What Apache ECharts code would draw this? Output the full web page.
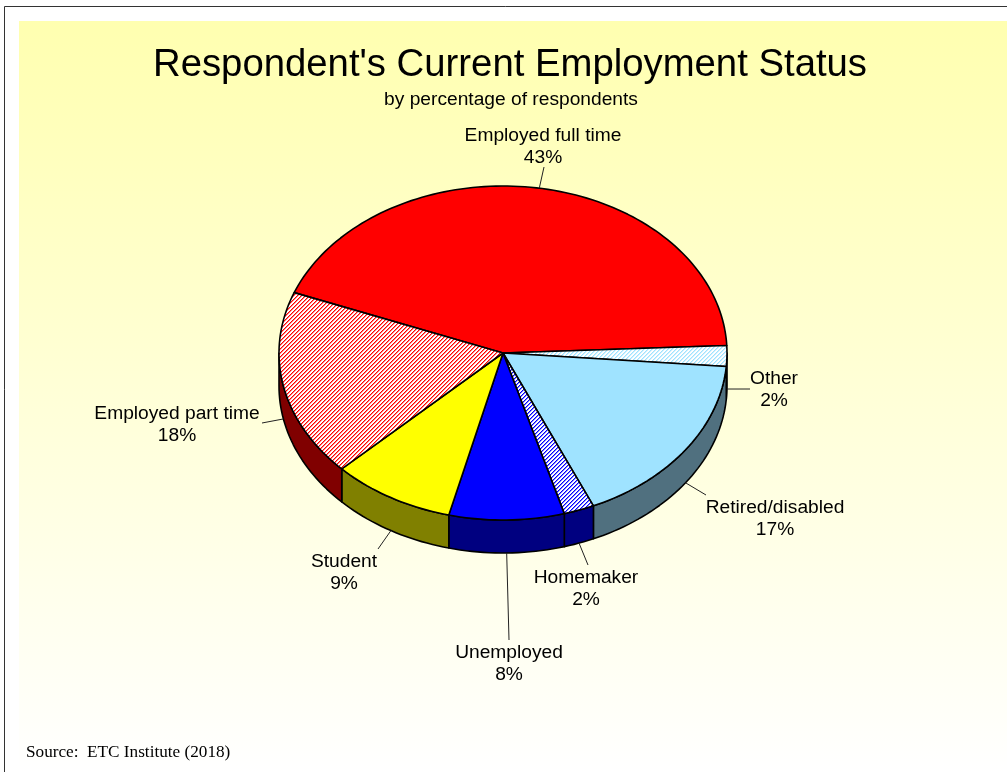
<!DOCTYPE html>
<html>
<head>
<meta charset="utf-8">
<title>Respondent's Current Employment Status</title>
<style>
  html, body { margin: 0; padding: 0; background: #fff; }
  #chart { width: 1007px; height: 772px; }
</style>
<script src="https://cdn.jsdelivr.net/npm/echarts@6/dist/echarts.min.js"></script>
</head>
<body>
<div id="chart"></div>
<script>
// values, clockwise from the full time / part time edge
var categories = ['Employed full time', 'Other', 'Retired/disabled', 'Homemaker', 'Unemployed', 'Student', 'Employed part time'];
var percents = [43.4, 2.0, 17.1, 2.2, 8.3, 8.9, 18.1];

var topColors = ['#ff0000', 'hatch:#9fe3ff', '#9fe3ff', 'hatch:#0000ff', '#0000ff', '#ffff00', 'hatch:#ff0000'];
var wallColors = ['#800000', '#50707f', '#50707f', '#000080', '#000080', '#808000', '#800000'];

// where each leader line ends and where its label is centred
var leaderEnds = [[544, 167], [750, 389], [706, 495], [588, 565], [509, 640], [378, 549], [262, 423]];
var labelCentres = [[543, 147], [774, 390], [775, 519], [586, 589], [509, 664], [344, 573], [177, 425]];

var pie = { cx: 503, cy: 353, rx: 224, ry: 167, depth: 33, start: 158.8 };

// pixel drawn so the stripes stay crisp, second pixel half strength
function hatch(color) {
    var size = 4;
    var c = document.createElement('canvas');
    c.width = size;
    c.height = size;
    var ctx = c.getContext('2d');
    ctx.fillStyle = '#fff';
    ctx.fillRect(0, 0, size, size);
    ctx.fillStyle = color;
    for (var x = 0; x < size; x++) {
        for (var y = 0; y < size; y++) {
            var k = (x + y) % size;
            if (k < 2) {
                ctx.globalAlpha = k === 0 ? 1 : 0.5;
                ctx.fillRect(x, y, 1, 1);
            }
        }
    }
    return { image: c, repeat: 'repeat' };
}

function fillOf(color) {
    return color.indexOf('hatch:') === 0 ? hatch(color.slice(6)) : color;
}

function edgePoint(deg, drop) {
    var t = deg * Math.PI / 180;
    return [pie.cx + pie.rx * Math.cos(t), pie.cy - pie.ry * Math.sin(t) + (drop || 0)];
}

function arc(from, to, drop) {
    var pts = [];
    var n = Math.max(2, Math.ceil(Math.abs(from - to) / 1.5));
    for (var i = 0; i <= n; i++) {
        pts.push(edgePoint(from + (to - from) * i / n, drop));
    }
    return pts;
}

// only the part of the rim facing the viewer shows a wall
function wallRange(from, to) {
    var ranges = [[0, -180], [-360, -540]];
    for (var i = 0; i < ranges.length; i++) {
        var a = Math.min(from, ranges[i][0]);
        var b = Math.max(to, ranges[i][1]);
        if (a > b) return [a, b];
    }
    return null;
}

var seriesData = [];
var angle = pie.start;
var total = percents.reduce(function (a, b) { return a + b; }, 0);
percents.forEach(function (p, i) {
    var sweep = p / total * 360;
    seriesData.push({ name: categories[i], value: [p, angle, angle - sweep] });
    angle -= sweep;
});

function renderSlice(params, api) {
    var i = params.dataIndex;
    var pct = api.value(0);
    var from = api.value(1);
    var to = api.value(2);
    var mid = (from + to) / 2;
    var children = [];

    var wall = wallRange(from, to);
    if (wall) {
        var front = arc(wall[0], wall[1], 0);
        var back = arc(wall[1], wall[0], pie.depth);
        children.push({
            type: 'polygon',
            shape: { points: front.concat(back) },
            style: { fill: wallColors[i], stroke: '#000', lineWidth: 1.6, lineJoin: 'round' }
        });
    }

    children.push({
        type: 'polygon',
        shape: { points: [[pie.cx, pie.cy]].concat(arc(from, to, 0)) },
        style: { fill: fillOf(topColors[i]), stroke: '#000', lineWidth: 1.6, lineJoin: 'round' }
    });

    // leader line starts from the visible rim at the middle of the slice
    var onFront = Math.sin(mid * Math.PI / 180) < 0;
    var start = edgePoint(mid, onFront ? pie.depth : 0);
    children.push({
        type: 'line',
        shape: { x1: start[0], y1: start[1], x2: leaderEnds[i][0], y2: leaderEnds[i][1] },
        style: { stroke: '#222', lineWidth: 1, fill: null }
    });

    children.push({
        type: 'text',
        style: {
            x: labelCentres[i][0],
            y: labelCentres[i][1],
            text: categories[i] + '\n' + Math.round(pct) + '%',
            align: 'center',
            verticalAlign: 'middle',
            fontFamily: '"Liberation Sans", Arial, sans-serif',
            fontSize: 19.2,
            lineHeight: 22,
            fill: '#000'
        }
    });
    return { type: 'group', children: children };
}

var chart = echarts.init(document.getElementById('chart'));
chart.setOption({
    animation: false,
    backgroundColor: '#ffffff',
    title: [
        {
            text: "Respondent's Current Employment Status",
            left: 505, top: 41, textAlign: 'center',
            textStyle: { fontFamily: '"Liberation Sans", Arial, sans-serif', fontSize: 38.3, fontWeight: 'normal', color: '#000' }
        },
        {
            text: 'by percentage of respondents',
            left: 506, top: 85, textAlign: 'center',
            textStyle: { fontFamily: '"Liberation Sans", Arial, sans-serif', fontSize: 19.2, fontWeight: 'normal', color: '#000' }
        },
        {
            text: 'Source:  ETC Institute (2018)',
            left: 21, top: 739,
            textStyle: { fontFamily: '"Liberation Serif", "Times New Roman", serif', fontSize: 17.2, fontWeight: 'normal', color: '#000' }
        }
    ],
    graphic: [
        {
            type: 'rect', z: -10,
            shape: { x: 19, y: 21, width: 988, height: 751 },
            style: {
                fill: {
                    type: 'linear', x: 0, y: 0, x2: 0, y2: 1,
                    colorStops: [{ offset: 0, color: '#ffffb0' }, { offset: 1, color: '#ffffff' }]
                }
            }
        },
        { type: 'line', z: -5, shape: { x1: 4.5, y1: 6.5, x2: 1007, y2: 6.5 }, style: { stroke: '#333', lineWidth: 1 } },
        { type: 'line', z: -5, shape: { x1: 4.5, y1: 6.5, x2: 4.5, y2: 772 }, style: { stroke: '#333', lineWidth: 1 } }
    ],
    series: [{
        type: 'custom',
        coordinateSystem: 'none',
        silent: true,
        renderItem: renderSlice,
        data: seriesData
    }]
});
</script>
</body>
</html>
